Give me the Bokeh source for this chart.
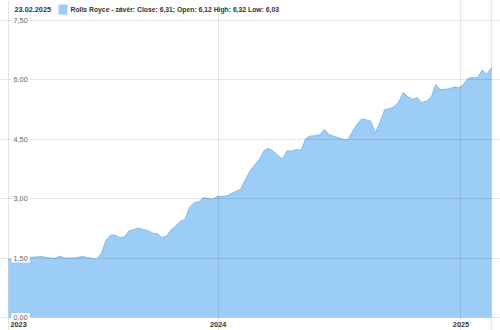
import pandas as pd
from bokeh.plotting import figure
from bokeh.models import Range1d, Label, Grid, FixedTicker, ColumnDataSource
from bokeh.embed import file_html
from bokeh.resources import INLINE

start_date = "2023-02-19"
close_values = [
    1.47, 1.48, 1.50, 1.51, 1.52, 1.52, 1.53, 1.54, 1.52, 1.50,
    1.49, 1.55, 1.50, 1.50, 1.50, 1.52, 1.54, 1.51, 1.49, 1.47,
    1.62, 1.95, 2.08, 2.08, 2.01, 2.04, 2.19, 2.22, 2.26, 2.22,
    2.20, 2.13, 2.12, 2.02, 2.05, 2.21, 2.31, 2.43, 2.47, 2.79,
    2.90, 2.92, 3.03, 3.00, 2.99, 3.06, 3.06, 3.07, 3.13, 3.19,
    3.24, 3.48, 3.70, 3.85, 3.99, 4.21, 4.27, 4.20, 4.09, 4.00,
    4.21, 4.20, 4.24, 4.22, 4.52, 4.58, 4.59, 4.61, 4.75, 4.62,
    4.58, 4.54, 4.50, 4.48, 4.68, 4.87, 5.01, 4.99, 4.96, 4.66,
    4.93, 5.25, 5.27, 5.32, 5.44, 5.68, 5.57, 5.51, 5.55, 5.43,
    5.47, 5.56, 5.88, 5.75, 5.76, 5.78, 5.82, 5.80, 5.89, 6.04,
    6.06, 6.05, 6.25, 6.14, 6.31,
]
y_ticks = [0.0, 1.5, 3.0, 4.5, 6.0, 7.5]
year_labels = ["2023", "2024", "2025"]
year_dates = ["2023-02-19", "2024-01-01", "2025-01-01"]
header_date = "23.02.2025"
legend_text = "Rolls Royce - závěr: Close: 6,31; Open: 6,12 High: 6,32 Low: 6,03"

dates = pd.date_range(start_date, periods=len(close_values), freq="7D")
src = ColumnDataSource(dict(x=dates, y=close_values))

FONT = "Liberation Sans"
FILL = "#9bcdf7"
W, H = 500, 330
PAD_L, PAD_R, PAD_T, PAD_B = 8, 9, 20, 13

# the frame covers the whole canvas; the data area is inset by the paddings
span_days = (dates[-1] - dates[0]).days
days_per_px = span_days / (W - PAD_L - PAD_R)
ymax = y_ticks[-1]
units_per_px = ymax / (H - PAD_T - PAD_B)
x_start = dates[0] - pd.Timedelta(days=PAD_L * days_per_px)
x_end = dates[-1] + pd.Timedelta(days=PAD_R * days_per_px)

p = figure(width=W, height=H, output_backend="svg", toolbar_location=None,
           x_axis_type="datetime", x_axis_location=None, y_axis_location=None,
           x_range=Range1d(x_start, x_end),
           y_range=Range1d(-PAD_B * units_per_px, ymax + PAD_T * units_per_px),
           min_border=0)
p.outline_line_color = None
p.xgrid.visible = False
p.ygrid.visible = False
p.background_fill_color = "white"
p.border_fill_color = "white"

p.varea(x="x", y1=0, y2="y", source=src, fill_color=FILL, fill_alpha=1.0)
p.line(x="x", y="y", source=src, line_color="#7fbbee", line_width=1)

to_ms = lambda d: pd.Timestamp(d).value / 1e6
ygrid = Grid(dimension=1, ticker=FixedTicker(ticks=y_ticks), grid_line_color="black",
             grid_line_alpha=0.1, level="guide", bounds=(to_ms(dates[0]), to_ms(dates[-1])))
xgrid = Grid(dimension=0,
             ticker=FixedTicker(ticks=[to_ms(dates[0])] + [to_ms(d) for d in year_dates[1:]]
                                + [to_ms(dates[-1])]),
             grid_line_color="black", grid_line_alpha=0.1, level="guide",
             bounds=(0, ymax))
p.add_layout(ygrid)
p.add_layout(xgrid)

x0 = dates[0]
for t in y_ticks:
    p.add_layout(Label(x=x0, y=t, x_offset=3, text=f"{t:.2f}".replace(".", ","),
                       text_font=FONT, text_font_size="7.3px", text_color="#666666",
                       text_baseline="middle", text_align="left",
                       background_fill_color="white", padding=2))

for i, (lab, d) in enumerate(zip(year_labels, year_dates)):
    p.add_layout(Label(x=pd.Timestamp(d), y=0, y_offset=-7, text=lab,
                       text_font=FONT, text_font_size="7.3px", text_font_style="bold",
                       text_color="#333333", text_baseline="middle",
                       text_align="left" if i == 0 else "center",
                       x_offset=2 if i == 0 else 0))

p.add_layout(Label(x=x0, y=ymax, x_offset=6, y_offset=11, text=header_date,
                   text_font=FONT, text_font_size="7.3px", text_font_style="bold",
                   text_color="#333333", text_baseline="middle"))
p.add_layout(Label(x=x0, y=ymax, x_offset=50, y_offset=11, text="\u2003",
                   text_font=FONT, text_font_size="9px", text_line_height=1.0,
                   text_baseline="middle", background_fill_color=FILL))
p.add_layout(Label(x=x0, y=ymax, x_offset=62, y_offset=11, text=legend_text,
                   text_font=FONT, text_font_size="6.8px", text_font_style="bold",
                   text_color="#333333", text_baseline="middle"))

open("out.html", "w").write(file_html(p, INLINE))
